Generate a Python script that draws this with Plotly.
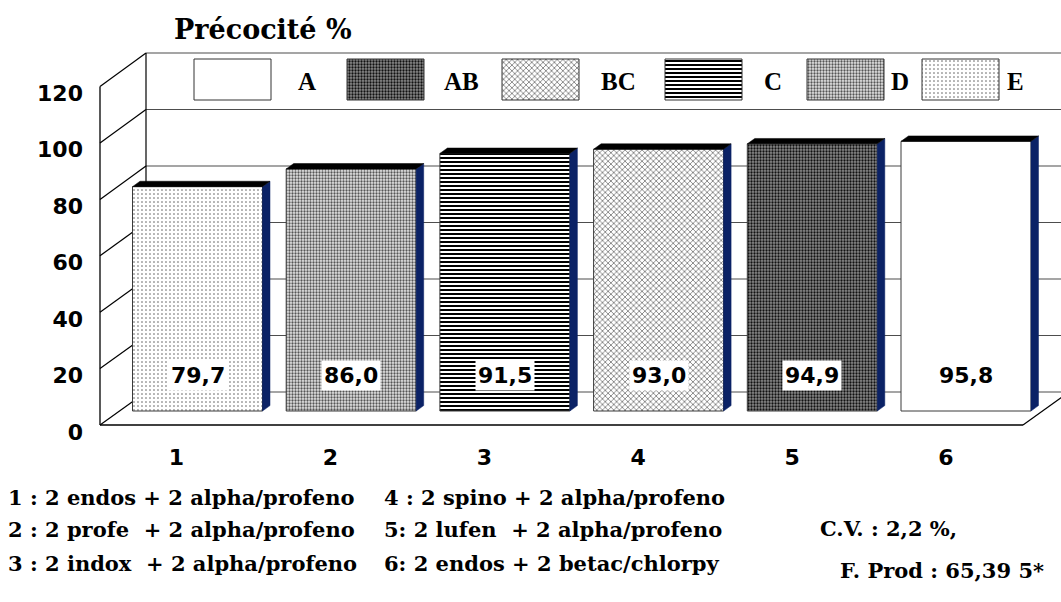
import plotly.graph_objects as go

W, H = 1061, 602

# ---------------- data ----------------
title_text = "Précocité %"
categories = ["1", "2", "3", "4", "5", "6"]
values = [79.7, 86.0, 91.5, 93.0, 94.9, 95.8]
groups = ["E", "D", "C", "BC", "AB", "A"]
legend_groups = ["A", "AB", "BC", "C", "D", "E"]
y_ticks = [0, 20, 40, 60, 80, 100, 120]
notes_left = ["1 : 2 endos + 2 alpha/profeno",
              "2 : 2 profe  + 2 alpha/profeno",
              "3 : 2 indox  + 2 alpha/profeno"]
notes_right = ["4 : 2 spino + 2 alpha/profeno",
               "5: 2 lufen  + 2 alpha/profeno",
               "6: 2 endos + 2 betac/chlorpy"]
stats_lines = ["C.V. : 2,2 %,", "F. Prod : 65,39 5*"]

# ---------------- styles ----------------
PAT = {
    "A":  dict(shape="", fg="white", bg="white", size=6, sol=0.3),
    "AB": dict(shape=".", fg="#111111", bg="#8a8a8a", size=3, sol=0.45),
    "BC": dict(shape="x", fg="#6e6e6e", bg="white", size=4, sol=0.35),
    "C":  dict(shape="-", fg="black", bg="white", size=4, sol=0.5),
    "D":  dict(shape=".", fg="#555555", bg="#e4e4e4", size=3, sol=0.45),
    "E":  dict(shape=".", fg="#555555", bg="white", size=4, sol=0.12),
}

def marker_for(g, line_color):
    s = PAT[g]
    m = dict(color=s["bg"], line=dict(color=line_color, width=1))
    if s["shape"]:
        m["pattern"] = dict(shape=s["shape"], fgcolor=s["fg"], bgcolor=s["bg"],
                            size=s["size"], solidity=s["sol"], fillmode="replace")
    return m

# ---------------- geometry (pixels) ----------------
FRONT_X, BACK_X = 100, 146
FRONT_Y0, BACK_Y0 = 425, 392
FRONT_SC, BACK_SC = 2.82, 2.825
BAR_Y0, BAR_SC = 411, 2.815
BAR_C0, BAR_STEP, BAR_W = 197.5, 153.7, 130
LAB_C0, LAB_STEP = 176.5, 153.9
SIDE_DX, SIDE_DY = 7.5, 5.4
FLOOR_RIGHT = 1023

def P(x, y):
    return x / W, 1 - y / H

xr = [1 + (0 - BAR_C0) / BAR_STEP, 1 + (W - BAR_C0) / BAR_STEP]
yr = [(BAR_Y0 - H) / BAR_SC, BAR_Y0 / BAR_SC]
LBL_Y0, LBL_SC = 432, 2.825
y2r = [(LBL_Y0 - H) / LBL_SC, LBL_Y0 / LBL_SC]
x2r = [1 + (0 - LAB_C0) / LAB_STEP, 1 + (W - LAB_C0) / LAB_STEP]

xpos = list(range(1, len(values) + 1))
bw = BAR_W / BAR_STEP
dxd = SIDE_DX / BAR_STEP
dyd = SIDE_DY / BAR_SC

fig = go.Figure()

for x, v, g in zip(xpos, values, groups):
    fig.add_trace(go.Bar(x=[x], y=[v], width=bw, base=0, marker=marker_for(g, "#3a3a3a"),
                         showlegend=False, hoverinfo="skip"))

fig.add_trace(go.Scatter(x=[1], y=[0], xaxis="x2", yaxis="y2", mode="markers",
                         marker=dict(opacity=0), showlegend=False, hoverinfo="skip"))

# legend swatches
sw_centers = [232.5, 385.5, 540.5, 703.5, 845.5, 960.5]
sw_label_x = [307, 461, 618, 773, 900, 1015]
for c, g in zip(sw_centers, legend_groups):
    fig.add_trace(go.Bar(x=[c], y=[41], base=10, width=77, xaxis="x3", yaxis="y3",
                         marker=marker_for(g, "#333333"), showlegend=False, hoverinfo="skip"))

shapes = []

def line_px(x0, y0, x1, y1, color="black", width=1.2, layer="below"):
    a = P(x0, y0); b = P(x1, y1)
    shapes.append(dict(type="line", xref="paper", yref="paper", x0=a[0], y0=a[1],
                       x1=b[0], y1=b[1], line=dict(color=color, width=width), layer=layer))

for v in y_ticks:
    yb = BACK_Y0 - BACK_SC * v
    yf = FRONT_Y0 - FRONT_SC * v
    line_px(BACK_X, yb, W + 2, yb, color="#4d4d4d", width=1.1)
    line_px(FRONT_X, yf, BACK_X, yb, color="black", width=1.2)
line_px(FRONT_X, FRONT_Y0, FRONT_X, FRONT_Y0 - FRONT_SC * 120, width=1.3)
line_px(BACK_X, BACK_Y0, BACK_X, BACK_Y0 - BACK_SC * 120, width=1.2)
line_px(FRONT_X, FRONT_Y0, FLOOR_RIGHT, FRONT_Y0, width=1.6)
line_px(FLOOR_RIGHT, FRONT_Y0, FLOOR_RIGHT + (BACK_X - FRONT_X), BACK_Y0, width=1.2)

for x, v in zip(xpos, values):
    x0, x1 = x - bw / 2, x + bw / 2
    side = f"M {x1},0 L {x1 + dxd},{dyd} L {x1 + dxd},{v + dyd} L {x1},{v} Z"
    top = f"M {x0},{v} L {x0 + dxd},{v + dyd} L {x1 + dxd},{v + dyd} L {x1},{v} Z"
    shapes.append(dict(type="path", xref="x", yref="y", path=side,
                       fillcolor="#0b2266", line=dict(color="#0b2266", width=0.5)))
    shapes.append(dict(type="path", xref="x", yref="y", path=top,
                       fillcolor="black", line=dict(color="black", width=0.5)))

SANS = "DejaVu Sans"
SERIF_WIDE = "DejaVu Serif"
SERIF = "Liberation Serif"

annotations = []
LABEL_Y = (BAR_Y0 - 375) / BAR_SC
for x, v in zip(xpos, values):
    annotations.append(dict(x=x, y=LABEL_Y, xref="x", yref="y", showarrow=False,
                            xanchor="center", yanchor="middle",
                            text=f"{v:.1f}".replace(".", ","),
                            font=dict(family=SANS, size=22, color="black", weight="bold"),
                            bgcolor="white", borderpad=2))

def ptext(px_, py_, text, family, size, xanchor="center"):
    a = P(px_, py_)
    annotations.append(dict(x=a[0], y=a[1], xref="paper", yref="paper", showarrow=False,
                            xanchor=xanchor, yanchor="middle", text=text,
                            font=dict(family=family, size=size, color="black", weight="bold")))

ptext(263, 30, title_text, SERIF_WIDE, 27)
for g, lx in zip(legend_groups, sw_label_x):
    ptext(lx, 81, g, SERIF, 25)

for i, (l, r) in enumerate(zip(notes_left, notes_right)):
    yy = [497, 529, 563][i]
    ptext(6, yy, l.replace("  ", "\u00a0 "), SERIF_WIDE, 21, xanchor="left")
    ptext(382, yy, r.replace("  ", "\u00a0 "), SERIF_WIDE, 21, xanchor="left")

for (sx, sy, fs), s in zip([(818, 528, 21), (838, 570, 21)], stats_lines):
    ptext(sx, sy, s, SERIF_WIDE, fs, xanchor="left")

tick_font = dict(family=SANS, size=22, color="black", weight="bold")

fig.update_layout(
    width=W, height=H, margin=dict(l=0, r=0, t=0, b=0),
    paper_bgcolor="white", plot_bgcolor="rgba(0,0,0,0)",
    font=dict(color="black"),
    barmode="overlay", showlegend=False,
    xaxis=dict(domain=[0, 1], range=xr, visible=False, fixedrange=True),
    yaxis=dict(domain=[0, 1], range=yr, visible=False, fixedrange=True),
    xaxis2=dict(overlaying="x", anchor="free", position=1 - 442 / H, side="bottom",
                range=x2r, tickvals=xpos, ticktext=categories, showgrid=False,
                zeroline=False, showline=False, ticks="", tickfont=tick_font),
    yaxis2=dict(overlaying="y", anchor="free", position=FRONT_X / W, side="left",
                range=y2r, tickvals=y_ticks, showgrid=False, zeroline=False,
                showline=False, ticks="", ticklabelstandoff=17, tickfont=tick_font),
    xaxis3=dict(domain=[0, 1], range=[0, W], visible=False, anchor="y3"),
    yaxis3=dict(domain=[1 - 110 / H, 1 - 51 / H], range=[0, 59], visible=False, anchor="x3"),
    shapes=shapes, annotations=annotations,
)

fig.write_html("out.html")
